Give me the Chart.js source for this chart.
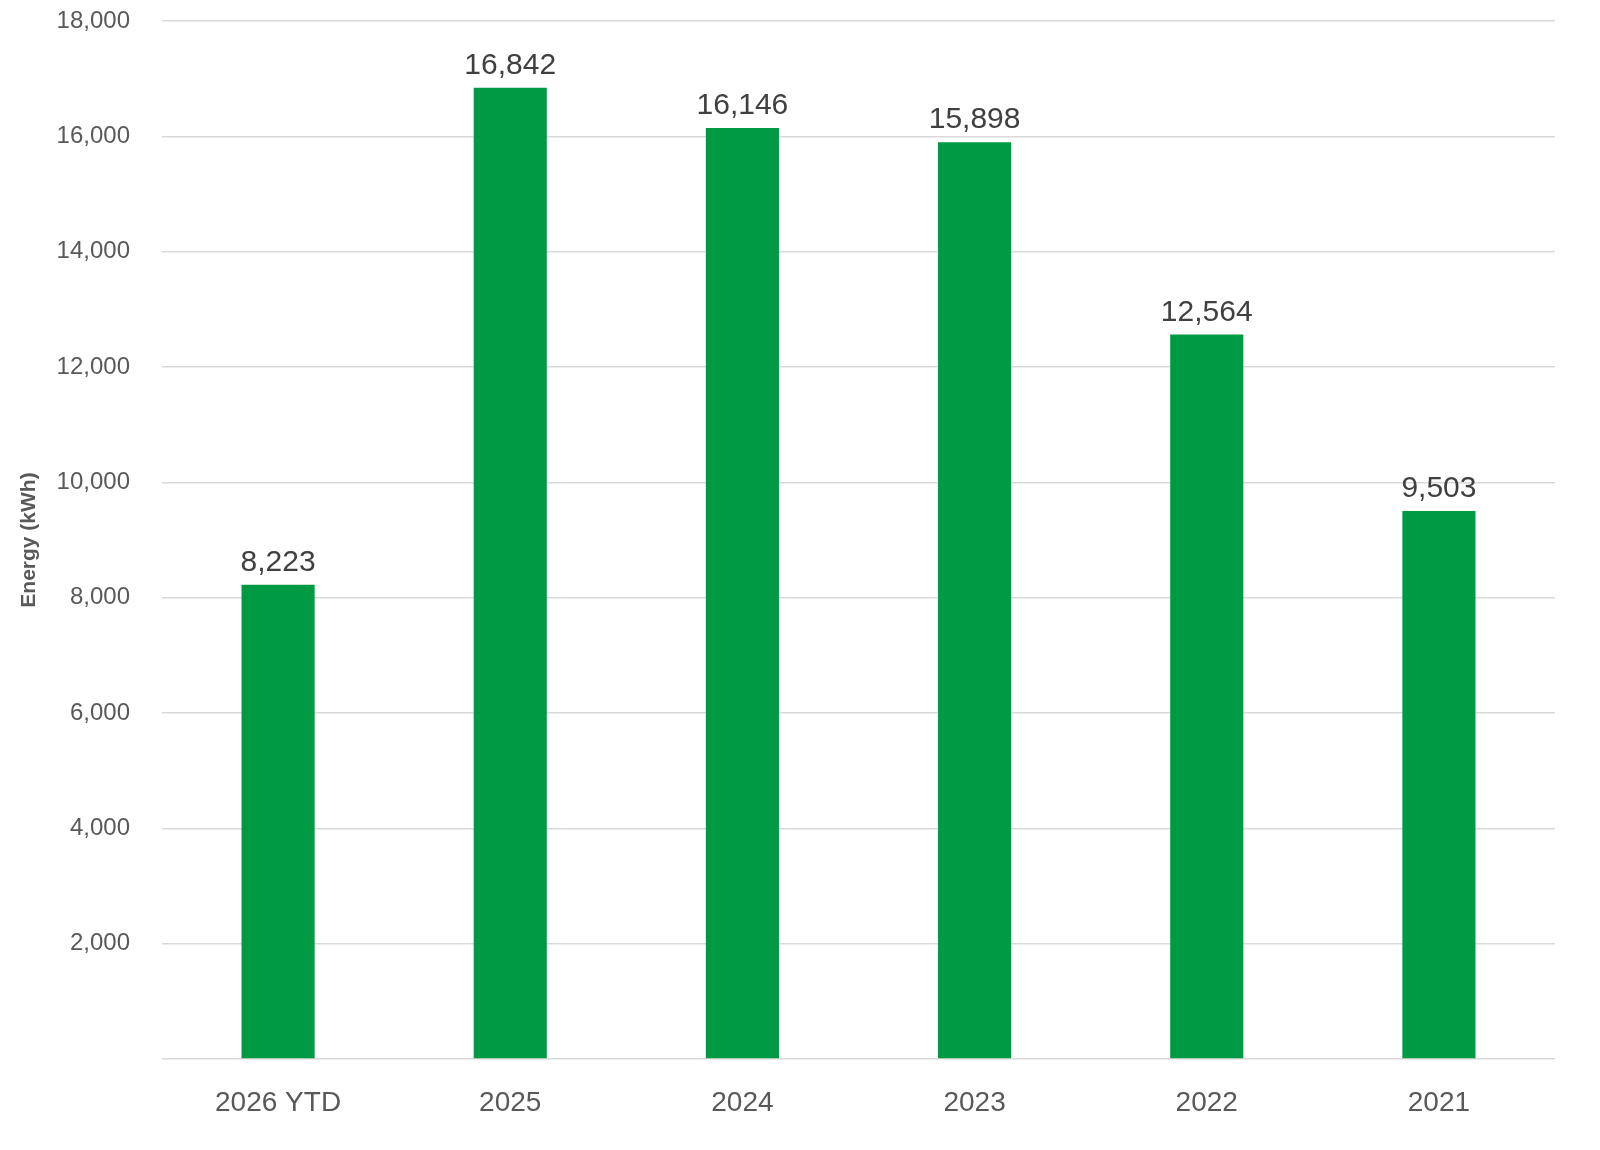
<!DOCTYPE html>
<html>
<head>
<meta charset="utf-8">
<script src="https://cdn.jsdelivr.net/npm/chart.js@4"></script>
<style>
  html, body { margin: 0; padding: 0; background: #fff; }
  canvas { display: block; }
</style>
</head>
<body>
<canvas id="energyChart" width="1600" height="1150"></canvas>
<script>
// Chart data
const categories = ['2026 YTD', '2025', '2024', '2023', '2022', '2021'];
const energyValues = [8223, 16842, 16146, 15898, 12564, 9503];
const yTicks = [0, 2000, 4000, 6000, 8000, 10000, 12000, 14000, 16000, 18000];

const fontFamily = '"Liberation Sans", Arial, sans-serif';
const barColor = '#009a44';

// Plugin that writes the value above each bar
const valueLabels = {
  id: 'valueLabels',
  afterDatasetsDraw(chart) {
    const ctx = chart.ctx;
    const meta = chart.getDatasetMeta(0);
    ctx.save();
    ctx.font = '30px ' + fontFamily;
    ctx.fillStyle = '#404040';
    ctx.textAlign = 'center';
    ctx.textBaseline = 'bottom';
    meta.data.forEach((bar, i) => {
      ctx.fillText(energyValues[i].toLocaleString('en-US'), bar.x, bar.y - 7);
    });
    ctx.restore();
  }
};

const ctx = document.getElementById('energyChart').getContext('2d');
new Chart(ctx, {
  type: 'bar',
  data: {
    labels: categories,
    datasets: [{
      label: 'Energy (kWh)',
      data: energyValues,
      backgroundColor: barColor,
      borderWidth: 0,
      barPercentage: 0.315,
      categoryPercentage: 1.0
    }]
  },
  options: {
    responsive: false,
    devicePixelRatio: 1,
    animation: false,
    layout: { padding: { top: 21, right: 45, bottom: 0, left: 0 } },
    plugins: {
      legend: { display: false },
      tooltip: { enabled: false }
    },
    scales: {
      x: {
        grid: { display: false, drawTicks: false },
        border: { display: false },
        ticks: {
          color: '#595959',
          font: { family: fontFamily, size: 28 },
          padding: 27
        },
        afterFit(scale) { scale.height = 91; }
      },
      y: {
        min: 0,
        max: 18000,
        afterBuildTicks(scale) {
          scale.ticks = yTicks.map(v => ({ value: v }));
        },
        grid: { color: '#d9d9d9', lineWidth: 1.5, drawTicks: false },
        border: { display: false },
        ticks: {
          color: '#595959',
          font: { family: fontFamily, size: 24 },
          padding: 32,
          callback: v => v === 0 ? '' : v.toLocaleString('en-US')
        },
        title: {
          display: true,
          text: 'Energy (kWh)',
          color: '#595959',
          font: { family: fontFamily, size: 21, weight: 'bold' },
          padding: { top: 17, bottom: 6 }
        },
        afterFit(scale) {
          scale.width = 162;
          // let the layout padding alone set the top edge
          scale.paddingTop = 0;
          scale.paddingBottom = 0;
        }
      }
    }
  },
  plugins: [valueLabels]
});
</script>
</body>
</html>
